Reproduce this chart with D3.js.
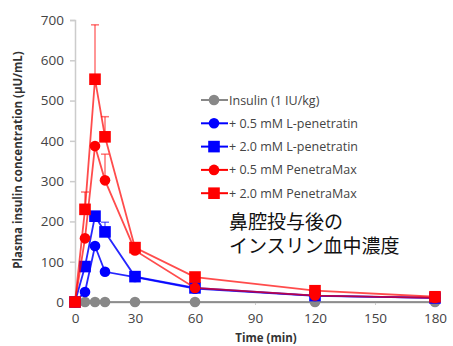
<!DOCTYPE html>
<meta charset="utf-8">
<style>
body { margin: 0; background: #fff; }
.tick text { font: 13.5px "Open Sans", sans-serif; fill: #444; }
.legend text { font: 12.5px "Open Sans", sans-serif; fill: #444; }
.title { font: bold 11.5px "Open Sans", sans-serif; fill: #333; }
.note { font: 19px "Noto Sans CJK JP", sans-serif; fill: #111; }
</style>
<svg width="453" height="346"></svg>
<script src="https://cdn.jsdelivr.net/npm/d3@7"></script>
<script>

var times = [0, 5, 10, 15, 30, 60, 120, 180];
var xTicks = [0, 30, 60, 90, 120, 150, 180];
var yTicks = [0, 100, 200, 300, 400, 500, 600, 700];

var names = ["Insulin (1 IU/kg)", "+ 0.5 mM L-penetratin", "+ 2.0 mM L-penetratin",
             "+ 0.5 mM PenetraMax", "+ 2.0 mM PenetraMax"];
var colors = ["#888", "#0000ff", "#0000ff", "#ff0000", "#ff0000"];
var shapes = ["circle", "circle", "square", "circle", "square"];

var insulin  = [0, 0, 0, 0, 0, 0, 0, 0];
var lpen05   = [0, 25, 139, 75, 62, 33, 15, 10];
var lpen20   = [0, 88, 213, 174, 63, 35, 16, 10];
var pmax05   = [0, 158, 387, 302, 128, 35, 16, 10];
var pmax20   = [0, 230, 553, 410, 135, 62, 28, 13];
var series = [insulin, lpen05, lpen20, pmax05, pmax20];

// error bars (upper side), as [series index, time index, error]
var errors = [[4, 1, 43], [4, 2, 135], [4, 3, 50], [3, 3, 65], [2, 3, 24]];

var svg = d3.select("svg");

var x = d3.scaleLinear().domain([0, 180]).range([75, 435]);
var y = d3.scaleLinear().domain([0, 700]).range([302, 20]);

// y axis
var gy = svg.append("g").attr("transform", "translate(75,0)")
    .call(d3.axisLeft(y).tickValues(yTicks).tickSize(5).tickPadding(6));
gy.select(".domain").attr("stroke", "#ccc").attr("stroke-width", 1.5);
gy.selectAll(".tick line").attr("stroke", "#ccc").attr("stroke-width", 1.5);

// x axis
var gx = svg.append("g").attr("transform", "translate(0,302)")
    .call(d3.axisBottom(x).tickValues(xTicks).tickSize(3).tickPadding(8).tickSizeOuter(0));
gx.select(".domain").attr("stroke", "#aaa").attr("stroke-width", 1.5);
gx.selectAll(".tick line").attr("stroke", "#ccc");

svg.append("text").attr("class", "title")
    .attr("transform", "translate(22,160) rotate(-90)")
    .attr("text-anchor", "middle")
    .text("Plasma insulin concentration (\u03bcU/mL)");

svg.append("text").attr("class", "title")
    .attr("x", 266).attr("y", 342)
    .attr("text-anchor", "middle")
    .text("Time (min)");

// error bars
errors.forEach(function(e) {
  var v = series[e[0]][e[1]], t = times[e[1]];
  var g = svg.append("g").attr("stroke", colors[e[0]]).attr("stroke-opacity", 0.55).attr("stroke-width", 1.5);
  g.append("line").attr("x1", x(t)).attr("x2", x(t)).attr("y1", y(v)).attr("y2", y(v + e[2]));
  g.append("line").attr("x1", x(t) - 4).attr("x2", x(t) + 4).attr("y1", y(v + e[2])).attr("y2", y(v + e[2]));
});

var line = d3.line().x(function(d, i) { return x(times[i]); }).y(function(d) { return y(d); });

function marker(g, shape, color, cx, cy) {
  if (shape == "circle") {
    g.append("circle").attr("cx", cx).attr("cy", cy).attr("r", 5.3).attr("fill", color);
  } else {
    g.append("rect").attr("x", cx - 5.8).attr("y", cy - 5.8).attr("width", 11.6).attr("height", 11.6).attr("fill", color);
  }
}

series.forEach(function(s, k) {
  svg.append("path").datum(s)
      .attr("fill", "none")
      .attr("stroke", colors[k])
      .attr("stroke-opacity", k >= 3 ? 0.7 : 0.85)
      .attr("stroke-width", 1.8)
      .attr("d", line);
  var g = svg.append("g");
  s.forEach(function(v, i) { marker(g, shapes[k], colors[k], x(times[i]), y(v)); });
});

// legend
var legend = svg.append("g").attr("class", "legend");
names.forEach(function(n, k) {
  var ly = 100 + k * 23.3;
  legend.append("line").attr("x1", 201).attr("x2", 228).attr("y1", ly).attr("y2", ly)
      .attr("stroke", colors[k]).attr("stroke-width", 2);
  marker(legend, shapes[k], colors[k], 214, ly);
  legend.append("text").attr("x", 229).attr("y", ly + 4.5).text(n);
});

var note = svg.append("text").attr("class", "note").attr("x", 229).attr("y", 229);
note.append("tspan").attr("x", 229).text("鼻腔投与後の");
note.append("tspan").attr("x", 229).attr("dy", 24).text("インスリン血中濃度");

</script>
